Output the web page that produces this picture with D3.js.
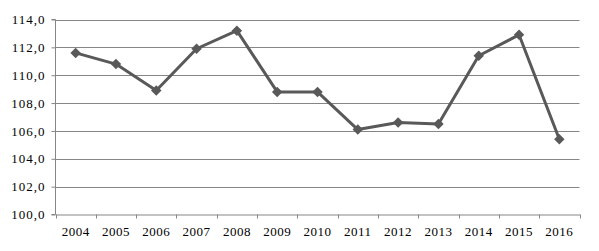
<!DOCTYPE html>
<html><head><meta charset="utf-8">
<script src="https://cdn.jsdelivr.net/npm/d3@7"></script>
<style>body{margin:0;background:#fff}svg{display:block}</style>
</head><body>
<svg id="c" width="599" height="251"></svg>
<script>
const years = ["2004","2005","2006","2007","2008","2009","2010","2011","2012","2013","2014","2015","2016"];
const values = [111.6,110.8,108.9,111.9,113.2,108.8,108.8,106.1,106.6,106.5,111.4,112.9,105.4];
const yTicks = [100,102,104,106,108,110,112,114];

const svg = d3.select("#c");
const L = 55.5, R = 579.5, T = 19.5, B = 214.5;
const x = d3.scaleBand().domain(years).range([L, R]);
const y = d3.scaleLinear().domain([100,114]).range([B, T]);
const grid = "#868686";
const font = "'Liberation Serif', 'Times New Roman', serif";

// gridlines
svg.append("g").selectAll("line").data(yTicks.slice(1)).join("line")
  .attr("x1", L).attr("x2", R).attr("y1", d => Math.round(y(d))+0.5).attr("y2", d => Math.round(y(d))+0.5)
  .attr("stroke", grid).attr("stroke-width", 1);

// y axis
const ya = svg.append("g").attr("transform", `translate(${L},0)`)
  .call(d3.axisLeft(y).tickValues(yTicks).tickSize(4).tickPadding(6)
    .tickFormat(d => d.toFixed(1).replace(".", ",")));
ya.select(".domain").attr("stroke", grid).attr("d", `M-4,${B}H0V${T}H-4`);
ya.selectAll(".tick line").attr("stroke", grid);
ya.selectAll(".tick text").attr("font-family", font).attr("font-size", 13)
  .attr("letter-spacing", "1px").attr("fill", "#000");

// x axis
const xa = svg.append("g").attr("transform", `translate(0,${B})`)
  .call(d3.axisBottom(x).tickSize(0).tickPadding(12));
xa.select(".domain").attr("stroke", grid);
xa.selectAll(".tick text").attr("font-family", font).attr("font-size", 13)
  .attr("letter-spacing", "0.5px").attr("fill", "#000");
// category boundary ticks
const bounds = years.map(d => x(d)).concat([R]);
xa.append("g").selectAll("line").data(bounds).join("line")
  .attr("x1", d => Math.round(d)+0.5).attr("x2", d => Math.round(d)+0.5)
  .attr("y1", 0).attr("y2", 4).attr("stroke", grid);

// line
const cx = d => x(d) + x.bandwidth()/2;
svg.append("path").datum(years.map((d,i)=>[cx(d), y(values[i])]))
  .attr("d", d3.line()).attr("fill", "none").attr("stroke", "#595959").attr("stroke-width", 3)
  .attr("stroke-linejoin", "round");

// markers
svg.append("g").selectAll("path").data(years).join("path")
  .attr("transform", (d,i) => `translate(${cx(d)},${y(values[i])})`)
  .attr("d", d3.symbol(d3.symbolDiamond2, 70)())
  .attr("fill", "#595959");
</script>
</body></html>
